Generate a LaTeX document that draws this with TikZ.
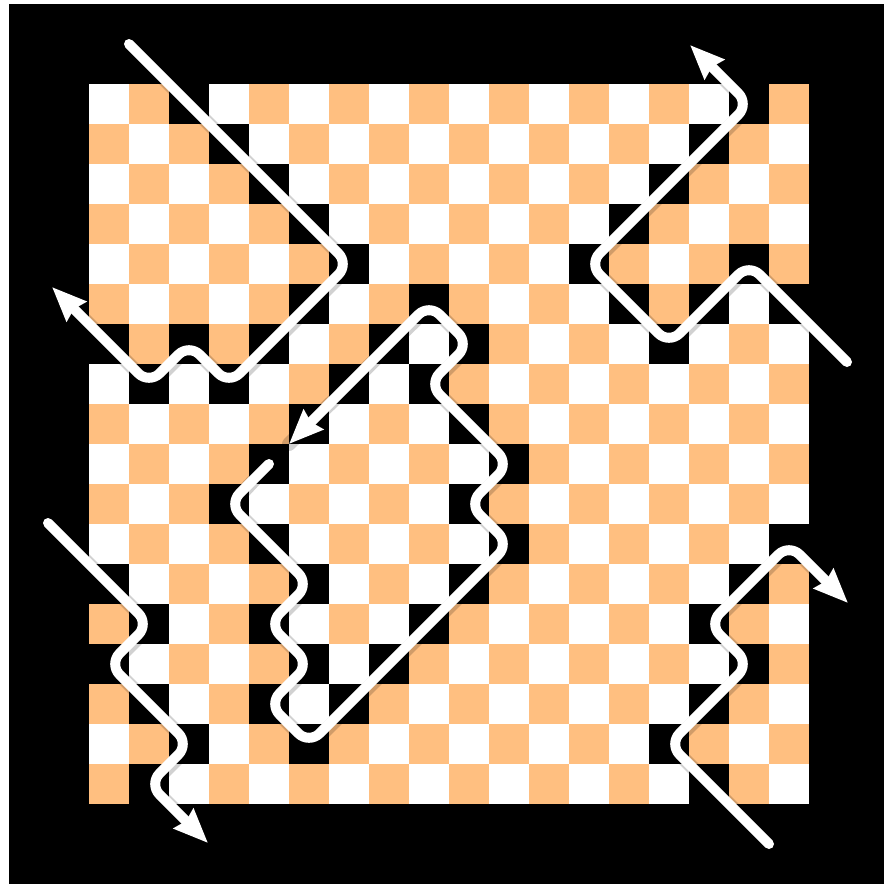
\documentclass[tikz,border=0pt]{standalone}
\usetikzlibrary{arrows.meta}
\definecolor{cO}{HTML}{FFBF80}
\colorlet{cW}{white}
\colorlet{cB}{black}
\tikzset{
  wall/.style={draw=white, line width=10pt, line cap=round, line join=round, rounded corners=15pt},
  wallshadow/.style={draw=black, draw opacity=0.18, line width=14pt, line cap=round, line join=round, rounded corners=15pt},
  tipend/.style={-{Stealth[length=34pt,width=27pt,inset=3pt]}},
  cell/.style={fill=#1}
}
\begin{document}
\begin{tikzpicture}[x=1pt,y=-1pt]
\useasboundingbox (0,0) rectangle (884,884);
\fill[white] (0,0) rectangle (884,884);
\fill[black] (9,4) rectangle (884,884);
% board
\foreach \rowlist [count=\j from 0] in {%
 {W,O,B,W,O,W,O,W,O,W,O,W,O,W,O,W,B,O},%
 {O,W,O,B,W,O,W,O,W,O,W,O,W,O,W,B,O,W},%
 {W,O,W,O,B,W,O,W,O,W,O,W,O,W,B,O,W,O},%
 {O,W,O,W,O,B,W,O,W,O,W,O,W,B,O,W,O,W},%
 {W,O,W,O,W,O,B,W,O,W,O,W,B,O,W,O,B,O},%
 {O,W,O,W,O,B,W,O,B,O,W,O,W,B,O,B,W,B},%
 {B,O,B,O,B,W,O,B,W,B,O,W,O,W,B,W,O,W},%
 {W,B,W,B,W,O,B,W,B,O,W,O,W,O,W,O,W,O},%
 {O,W,O,W,O,B,W,O,W,B,O,W,O,W,O,W,O,W},%
 {W,O,W,O,B,W,O,W,O,W,B,O,W,O,W,O,W,O},%
 {O,W,O,B,W,O,W,O,W,B,O,W,O,W,O,W,O,W},%
 {W,O,W,O,B,W,O,W,O,W,B,O,W,O,W,O,W,B},%
 {B,W,O,W,O,B,W,O,W,B,O,W,O,W,O,W,B,O},%
 {O,B,W,O,B,W,O,W,B,O,W,O,W,O,W,B,O,W},%
 {B,W,O,W,O,B,W,B,O,W,O,W,O,W,O,W,B,O},%
 {O,B,W,O,B,W,B,O,W,O,W,O,W,O,W,B,O,W},%
 {W,O,B,W,O,B,O,W,O,W,O,W,O,W,B,O,W,O},%
 {O,B,W,O,W,O,W,O,W,O,W,O,W,O,W,B,O,W}%
}{
  \foreach \c [count=\i from 0] in \rowlist {
    \fill[cell=c\c] ({89+40*\i},{84+40*\j}) rectangle ++(40,40);
  }
}
% end points
\coordinate (s1) at (129,44);   \coordinate (t1) at (52,287);
\coordinate (s2) at (847,362);  \coordinate (t2) at (690,45);
\coordinate (s3) at (269,464);  \coordinate (t3) at (289,444);
\coordinate (s4) at (48,523);   \coordinate (t4) at (208,843);
\coordinate (s5) at (769,844);  \coordinate (t5) at (848,603);
% shadows
\begin{scope}[shift={(1.5,1.5)}]
\draw[wallshadow] (s1) -- (349,264) -- (229,384) -- (189,344) -- (149,384) -- (t1);
\draw[wallshadow] (s2) -- (749,264) -- (669,344) -- (589,264) -- (749,104) -- (t2);
\draw[wallshadow] (s3) -- (229,504) -- (309,584) -- (269,624) -- (309,664) -- (269,704) -- (309,744) -- (509,544) -- (469,504) -- (509,464) -- (429,384) -- (469,344) -- (429,304) -- (t3);
\draw[wallshadow] (s4) -- (149,624) -- (109,664) -- (189,744) -- (149,784) -- (t4);
\draw[wallshadow] (s5) -- (669,744) -- (749,664) -- (709,624) -- (789,544) -- (t5);
\end{scope}
% walls
\draw[wall,tipend] (s1) -- (349,264) -- (229,384) -- (189,344) -- (149,384) -- (t1);
\draw[wall,tipend] (s2) -- (749,264) -- (669,344) -- (589,264) -- (749,104) -- (t2);
\draw[wall,tipend] (s3) -- (229,504) -- (309,584) -- (269,624) -- (309,664) -- (269,704) -- (309,744) -- (509,544) -- (469,504) -- (509,464) -- (429,384) -- (469,344) -- (429,304) -- (t3);
\draw[wall,tipend] (s4) -- (149,624) -- (109,664) -- (189,744) -- (149,784) -- (t4);
\draw[wall,tipend] (s5) -- (669,744) -- (749,664) -- (709,624) -- (789,544) -- (t5);
\end{tikzpicture}
\end{document}
